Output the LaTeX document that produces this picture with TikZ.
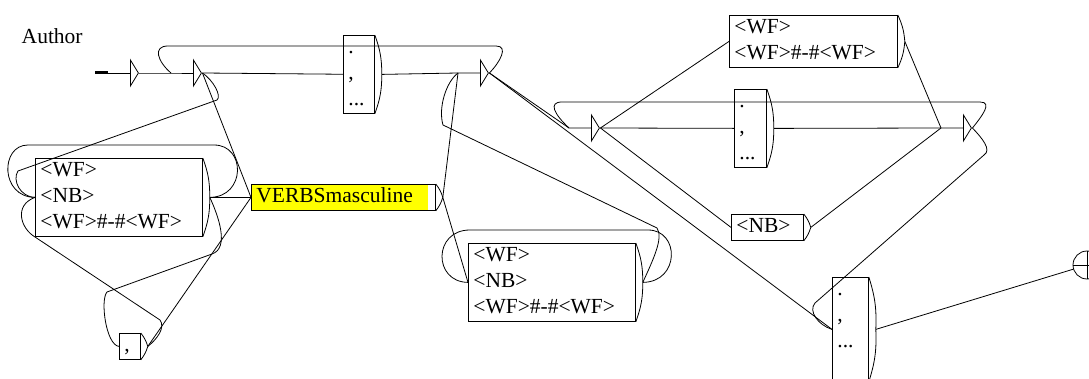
\documentclass[tikz,border=0pt]{standalone}
\usepackage{fontspec}
\setmainfont{Liberation Serif}
\usetikzlibrary{positioning, shapes.geometric}
\definecolor{graphyellow}{RGB}{255,255,0}

\begin{document}
\begin{tikzpicture}[x=1pt, y=-1pt, line width=0.8pt,
        ebox/.style={isosceles triangle, isosceles triangle stretches, draw, inner sep=0pt, minimum width=26pt, minimum height=8pt},
        box/.style={draw, anchor=north west, align=left, inner xsep=5pt, inner ysep=0pt, font=\fontsize{21.5}{26}\selectfont,
            execute at begin node=\strut, execute at end node=\strut,
            append after command={(\tikzlastnode.north east) edge[bend left=10] ([xshift=7pt]\tikzlastnode.east)
                ([xshift=7pt]\tikzlastnode.east) edge[bend left=10] (\tikzlastnode.south east)}},
        graphbox/.style={box, fill=graphyellow, path picture={\fill[white] ([xshift=-7pt]path picture bounding box.north east) rectangle (path picture bounding box.south east);}},
        final/.style={circle, draw, minimum size=28pt, inner sep=0pt, path picture={\draw (path picture bounding box.north) -- (path picture bounding box.south) (path picture bounding box.west) -- (path picture bounding box.east);}}
    ]
        \useasboundingbox (0,0) rectangle (1089,379);

        \node[anchor=base west, font=\fontsize{21.5}{26}\selectfont] (title) at (18,44) {Author};

        % Etats vides
        \coordinate (start) at (95,73);
        \coordinate (t0in) at (108,73);
        \node[ebox, right=22pt of t0in] (t0) {};
        \coordinate (t1in) at (171,73);
        \node[ebox, right=22pt of t1in] (t1) {};
        \coordinate (t2in) at (458,73);
        \node[ebox, right=22pt of t2in] (t2) {};
        \coordinate (t3in) at (569,128);
        \node[ebox, right=22pt of t3in] (t3) {};
        \coordinate (t4in) at (941,128);
        \node[ebox, right=22pt of t4in] (t4) {};

        % Boites
        \node[box, text width=21pt] (p1) at (343,35) {.\\,\\...};
        \node[box, text width=157pt] (b2) at (35,158) {<WF>\\<NB>\\<WF>\#-\#<WF>};
        \node[graphbox, text width=174pt] (verbs) at (251,184) {VERBSmasculine};
        \node[box, text width=11pt] (comma) at (119,333) {,};
        \node[box, text width=157pt] (b3) at (468,243) {<WF>\\<NB>\\<WF>\#-\#<WF>};
        \node[box, text width=158pt] (b4) at (729,15) {<WF>\\<WF>\#-\#<WF>};
        \node[box, text width=22pt] (p2) at (734,89) {.\\,\\...};
        \node[box, text width=62pt] (nb) at (731,214) {<NB>};
        \node[box, text width=26pt] (p3) at (832,277) {.\\,\\...\\};
        \node[final] (final) at (1087,265) {};

        % Sorties
        \coordinate (p1o) at ([xshift=7pt]p1.east);
        \coordinate (b2o) at ([xshift=7pt]b2.east);
        \coordinate (verbso) at ([xshift=7pt]verbs.east);
        \coordinate (commao) at ([xshift=7pt]comma.east);
        \coordinate (b3o) at ([xshift=7pt]b3.east);
        \coordinate (b4o) at ([xshift=7pt]b4.east);
        \coordinate (p2o) at ([xshift=7pt]p2.east);
        \coordinate (nbo) at ([xshift=7pt]nb.east);
        \coordinate (p3o) at ([xshift=7pt]p3.east);

        % Transitions
        \draw[line width=3pt] (start) -- (t0in);
        \draw (t0in) -- (t0);
        \draw (t0.apex) -- (t1in) -- (t1);
        \draw (t1.apex) -- (p1);
        \draw (p1o) -- (t2in) -- (t2);
        \draw (t2.apex) .. controls (500,62) and (509,46) .. (496,46) -- (168,46) .. controls (152,46) and (158,62) .. (t1in);
        \draw (t1.apex) .. controls (213,80) and (222,96) .. (217,100) -- (18,171) .. controls (12,180) and (20,197) .. (b2.west);
        \draw (b2o) .. controls (246,197) and (246,145) .. (214,145) -- (28,145) .. controls (0,145) and (0,197) .. (b2.west);
        \draw (b2o) -- (verbs);
        \draw (t1.apex) -- (verbs.west);
        \draw (b2o) .. controls (218,215) and (230,248) .. (212,254) -- (107,292) .. controls (100,300) and (106,345) .. (comma.west);
        \draw (commao) -- (verbs.west);
        \draw (commao) .. controls (156,340) and (166,328) .. (160,320) -- (35,237) .. controls (20,228) and (14,205) .. (b2.west);
        \draw (verbso) -- (t2in);
        \draw (verbso) -- (b3.west);
        \draw (b3o) .. controls (680,282) and (680,230) .. (648,230) -- (470,230) .. controls (433,230) and (433,282) .. (b3.west);
        \draw (b3o) .. controls (652,262) and (664,238) .. (657,228) -- (443,125) .. controls (438,108) and (446,82) .. (t2in);
        \draw (t2.apex) -- (t3in) -- (t3);
        \draw (t2.apex) -- (p3.west);
        \draw (t3.apex) -- (p2);
        \draw (t3.apex) -- (b4.west);
        \draw (t3.apex) -- (nb.west);
        \draw (p2o) -- (t4in) -- (t4);
        \draw (b4o) -- (t4in);
        \draw (nbo) -- (t4in);
        \draw (t4.apex) .. controls (982,116) and (993,102) .. (980,102) -- (562,102) .. controls (548,102) and (554,114) .. (t3in);
        \draw (t4.apex) .. controls (982,138) and (992,150) .. (984,155) -- (815,303) .. controls (808,311) and (818,325) .. (p3.west);
        \draw (p3o) -- (final);
    \end{tikzpicture}
\end{document}
